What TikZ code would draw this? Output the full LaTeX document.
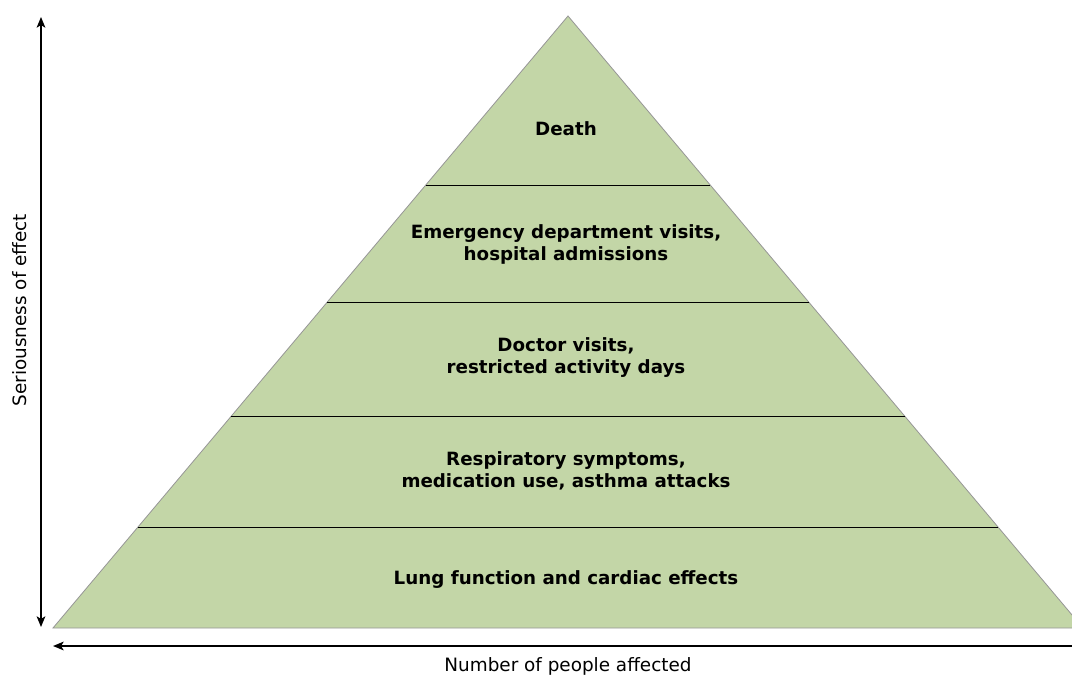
\documentclass[tikz,border=0pt]{standalone}
\usepackage{fontspec}
\setmainfont{DejaVu Sans}
\usetikzlibrary{arrows.meta,calc}

\definecolor{layergreen}{RGB}{195,214,167}
\definecolor{edgegray}{RGB}{150,150,150}

\begin{document}
\begin{tikzpicture}[x=0.75pt, y=-0.75pt,
    layer/.style={align=center, font=\fontsize{13.7}{16.5}\selectfont\bfseries},
    axislabel/.style={font=\fontsize{13.8}{16}\selectfont},
    axisarrow/.style={line width=1.4pt, {Stealth[length=8pt,width=6.5pt,inset=2pt]}-{Stealth[length=8pt,width=6.5pt,inset=2pt]}}]

    \useasboundingbox (0,0) rectangle (1072,677);

    % Pyramid corners
    \coordinate (apex) at (568,16);
    \coordinate (bl) at (53,628);
    \coordinate (br) at (1083,628);

    % Draw pyramid
    \fill[layergreen, draw=edgegray, line width=0.6pt] (apex) -- (bl) -- (br) -- cycle;

    % Layer dividers
    \foreach \t/\n in {0.2761/a, 0.4673/b, 0.6536/c, 0.8350/d} {
        \coordinate (l\n) at ($(apex)!\t!(bl)$);
        \coordinate (r\n) at ($(apex)!\t!(br)$);
        \draw[black, line width=0.6pt] (l\n) -- (r\n);
    }

    % Layer labels
    \node[layer] (death) at (566,129) {Death};
    \node[layer] (emergency) at (566,244) {Emergency department visits,\\hospital admissions};
    \node[layer] (doctor) at (566,358) {Doctor visits,\\restricted activity days};
    \node[layer] (respiratory) at (566,471) {Respiratory symptoms,\\medication use, asthma attacks};
    \node[layer] (lung) at (566,580) {Lung function and cardiac effects};

    % Axes
    \coordinate (ytop) at (41,17);
    \coordinate (ybot) at (41,627);
    \coordinate (xleft) at (53,646);
    \coordinate (xright) at (1085,646);
    \draw[axisarrow] (ybot) -- (ytop);
    \draw[axisarrow] (xright) -- (xleft);

    % Axis labels
    \node[axislabel, rotate=90] (serious) at (20,310) {Seriousness of effect};
    \node[axislabel] (people) at (568,666) {Number of people affected};

\end{tikzpicture}
\end{document}
